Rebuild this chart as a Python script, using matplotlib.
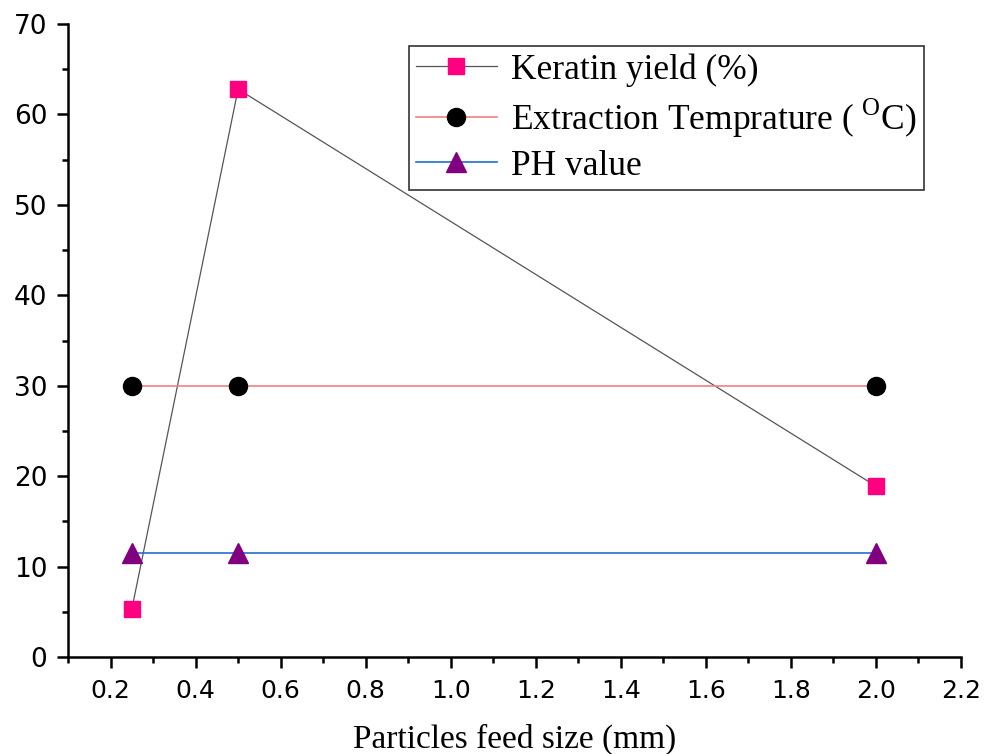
import matplotlib
matplotlib.use("Agg")
import matplotlib.pyplot as plt
from matplotlib.ticker import MultipleLocator

x_size = [0.25, 0.5, 2.0]
keratin_yield = [5.3, 62.8, 18.9]
extraction_temp = [30, 30, 30]
ph_value = [11.5, 11.5, 11.5]

labels = ["Keratin yield (%)",
          r"Extraction Temprature ( $^{\mathrm{O}}$C)",
          "PH value"]

plt.rcParams['mathtext.fontset'] = 'custom'
plt.rcParams['mathtext.rm'] = 'Liberation Serif'

fig = plt.figure(figsize=(9.86, 7.54), dpi=100)
ax = fig.add_axes([0.069, 0.1286, 0.9056, 0.8395])

ax.plot(x_size, keratin_yield, color='#555555', lw=0.9, marker='s', ms=11,
        mfc='#ff0080', mec='#ff0080', label=labels[0], zorder=3)
ax.plot(x_size, extraction_temp, color='#f08080', lw=1.2, marker='o', ms=13,
        mfc='black', mec='black', label=labels[1], zorder=3)
ax.plot(x_size, ph_value, color='#1f6fd0', lw=1.2, marker='^', ms=14,
        mfc='#800080', mec='#800080', label=labels[2], zorder=3)

ax.set_xlim(0.1, 2.2)
ax.set_ylim(0, 70)
ax.xaxis.set_major_locator(MultipleLocator(0.2))
ax.xaxis.set_minor_locator(MultipleLocator(0.1))
ax.yaxis.set_major_locator(MultipleLocator(10))
ax.yaxis.set_minor_locator(MultipleLocator(5))
ax.set_xticks([0.2, 0.4, 0.6, 0.8, 1.0, 1.2, 1.4, 1.6, 1.8, 2.0, 2.2])

for s in ['top', 'right']:
    ax.spines[s].set_visible(False)
for s in ['left', 'bottom']:
    ax.spines[s].set_linewidth(1.8)

ax.tick_params(which='major', direction='out', length=8, width=1.8,
               labelfontfamily='DejaVu Sans')
ax.tick_params(which='minor', direction='out', length=4.5, width=1.8)
ax.tick_params(axis='x', which='major', pad=8, labelsize=18)
ax.tick_params(axis='y', which='major', pad=7, labelsize=19)

ax.set_xlabel("Particles feed size (mm)", fontsize=24,
              fontfamily='Liberation Serif')
ax.xaxis.label.set_verticalalignment('baseline')
ax.xaxis.set_label_coords(0.5, -(748 - 657) / 633)

leg = ax.legend(loc='upper left', bbox_to_anchor=(0.3815, 0.965),
                prop={'family': 'Liberation Serif', 'size': 25.5},
                frameon=True, fancybox=False, edgecolor='black',
                handlelength=2.3, handletextpad=0.4, borderpad=0.2,
                labelspacing=0.28, borderaxespad=0)
leg.get_frame().set_linewidth(1.2)

fig.savefig("out.png", dpi=100)
